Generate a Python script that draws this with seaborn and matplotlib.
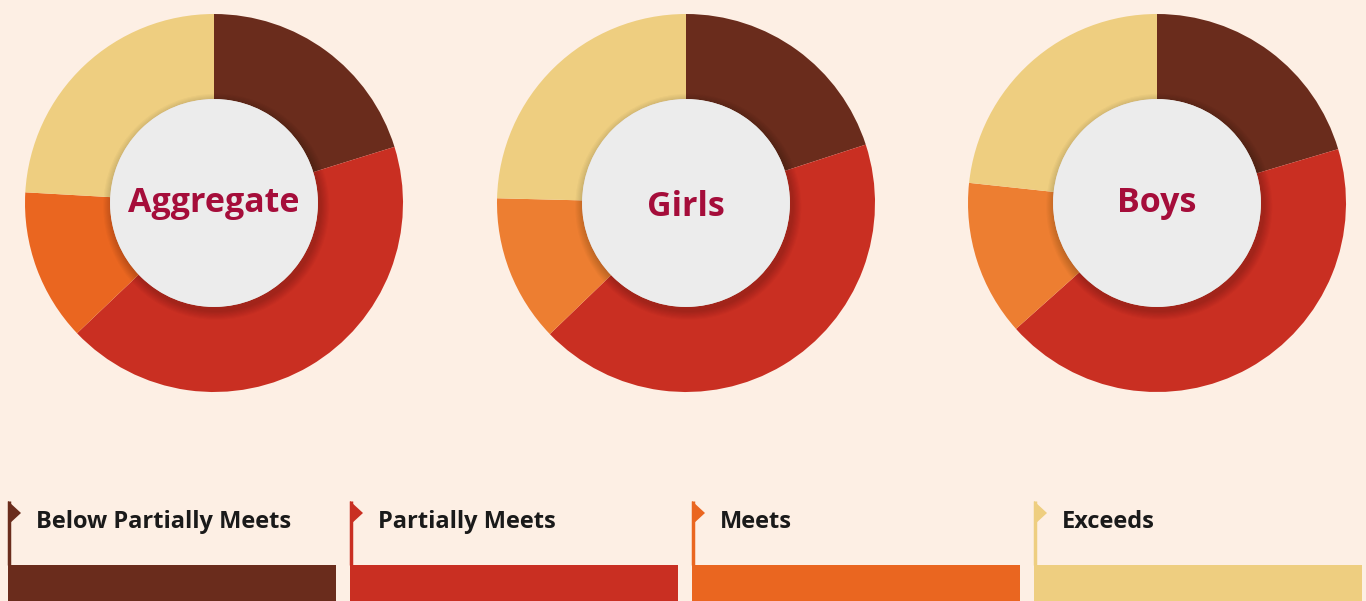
import numpy as np
import pandas as pd
import matplotlib
matplotlib.use("Agg")
import matplotlib.pyplot as plt
from matplotlib.patches import Circle
import seaborn as sns

levels = ["Below Partially Meets", "Partially Meets", "Meets", "Exceeds"]
groups = ["Aggregate", "Girls", "Boys"]
aggregate = [20.2, 42.7, 13.0, 24.1]
girls = [20.0, 42.8, 12.6, 24.6]
boys = [20.4, 43.0, 13.3, 23.3]

colors = ["#6A2C1C", "#C92F22", "#EA6620", "#EECE80"]
colors_light = ["#6A2C1C", "#C92F22", "#ED7E31", "#EECE80"]
bg = "#FDEFE4"

sns.set_theme(style="white", rc={"figure.facecolor": bg, "axes.facecolor": bg})
plt.rcParams["font.family"] = ["Open Sans", "DejaVu Sans"]

W, H = 1366, 601
fig = plt.figure(figsize=(W / 100, H / 100), dpi=100)

# donuts
centers = [214, 686, 1157]
label_y = [0.0, -0.02, 0.0]
R = 189
for name, vals, cx, ly in zip(groups, [aggregate, girls, boys], centers, label_y):
    ax = fig.add_axes([(cx - R) / W, (H - 203 - R) / H, 2 * R / W, 2 * R / H])
    cols = colors if name == "Aggregate" else colors_light
    ax.pie(vals, colors=cols, startangle=90, counterclock=False, radius=1,
           wedgeprops=dict(width=0.45, linewidth=0))
    # soft shadow of the centre disc
    for k in range(8):
        ax.add_patch(Circle((0.012, -0.02), 0.55 + 0.006 * (8 - k),
                            color="black", alpha=0.025, lw=0, zorder=3))
    ax.add_patch(Circle((0, 0), 0.55, color="#ECECEC", lw=0, zorder=4))
    ax.text(0, ly, name, ha="center", va="center", fontsize=24.5,
            fontweight="bold", color="#A50D3A", zorder=5)
    ax.set_xlim(-1, 1)
    ax.set_ylim(-1, 1)
    ax.axis("off")

# legend strip at the bottom
slot = 342.0
bw = 328.0 / slot
lax = fig.add_axes([0, 0, 1, 111 / H])
df = pd.DataFrame({"level": levels, "h": [36] * 4})
sns.barplot(data=df, x="level", y="h", hue="level", palette=colors,
            width=bw, legend=False, ax=lax, linewidth=0, saturation=1)
x0 = -bw / 2 - 8 / slot
lax.set_xlim(x0, x0 + W / slot)
lax.set_ylim(0, 111)
for i, (lab, c) in enumerate(zip(levels, colors)):
    left = i - bw / 2
    lax.vlines(left + 1.2 / slot, 36, 100, color=c, lw=2.5)
    lax.fill([left, left, left + 13 / slot], [100, 76, 88], color=c, lw=0)
    lax.text(left + 28 / slot, 79, lab, ha="left", va="center", fontsize=17,
             fontweight="bold", color="#1A1A1A")
lax.axis("off")

fig.savefig("out.png", dpi=100, facecolor=bg)
